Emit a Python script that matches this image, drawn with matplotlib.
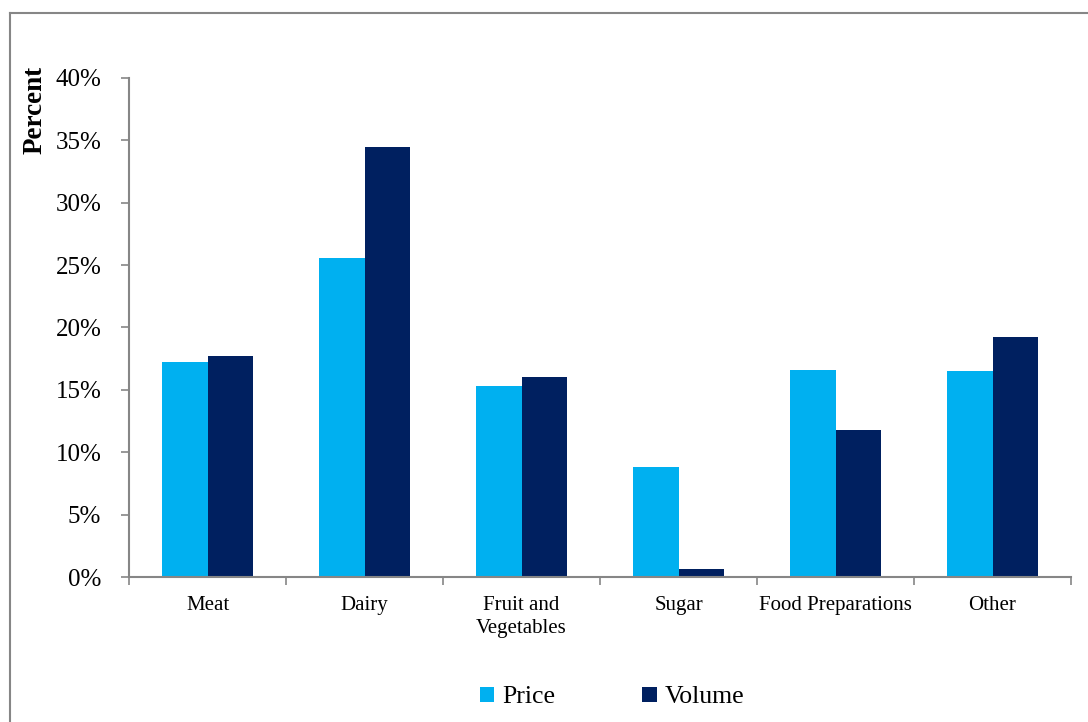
import matplotlib.pyplot as plt
from matplotlib.lines import Line2D
from matplotlib.ticker import FuncFormatter
import numpy as np

categories = ["Meat", "Dairy", "Fruit and\nVegetables", "Sugar", "Food Preparations", "Other"]
price = [17.2, 25.6, 15.3, 8.8, 16.6, 16.5]
volume = [17.7, 34.5, 16.0, 0.65, 11.8, 19.2]

plt.rcParams['font.family'] = ['Liberation Serif', 'DejaVu Serif']

fig = plt.figure(figsize=(10.88, 7.22), dpi=100)
ax = fig.add_axes([0.1186, 0.2008, 0.8658, 0.6912])

x = np.arange(len(categories))
w = 0.287
ax.bar(x - w/2, price, w, color='#00B0F0', label='Price')
ax.bar(x + w/2, volume, w, color='#002060', label='Volume')

ax.set_xlim(-0.5, len(categories) - 0.5)
ax.set_ylim(0, 40)
ax.set_yticks(range(0, 41, 5))
ax.yaxis.set_major_formatter(FuncFormatter(lambda v, p: "%d%%" % v))
ax.tick_params(axis='y', labelsize=18, length=6, color='#868686', width=1.2, pad=14)

# category boundaries get the ticks, labels sit at centers
ax.set_xticks(np.arange(-0.5, len(categories), 1.0))
ax.set_xticklabels([])
ax.set_xticks(x, minor=True)
ax.set_xticklabels(categories, minor=True, fontsize=15, linespacing=1.25)
ax.tick_params(axis='x', which='minor', length=0, pad=14)
ax.tick_params(axis='x', which='major', length=6, color='#868686', width=1.2)

for s in ['top', 'right']:
    ax.spines[s].set_visible(False)
for s in ['left', 'bottom']:
    ax.spines[s].set_color('#868686')
    ax.spines[s].set_linewidth(1.5)

ax.set_ylabel("Percent", fontsize=19.5, fontweight='bold')
ax.yaxis.set_label_coords(-0.086, 0.936)

fig.legend(loc='center', bbox_to_anchor=(0.5625, 0.034), ncol=2, frameon=False,
           fontsize=18.5, handlelength=0.55, handleheight=0.55, handletextpad=0.3,
           columnspacing=3.4)

# outer chart-area frame (top and left edges visible)
fig.add_artist(Line2D([10/1088, 1.0], [1 - 13/722, 1 - 13/722], color='#868686', lw=1.5,
                      transform=fig.transFigure))
fig.add_artist(Line2D([10/1088, 10/1088], [0, 1 - 13/722], color='#868686', lw=1.5,
                      transform=fig.transFigure))

fig.savefig("out.png", dpi=100)
